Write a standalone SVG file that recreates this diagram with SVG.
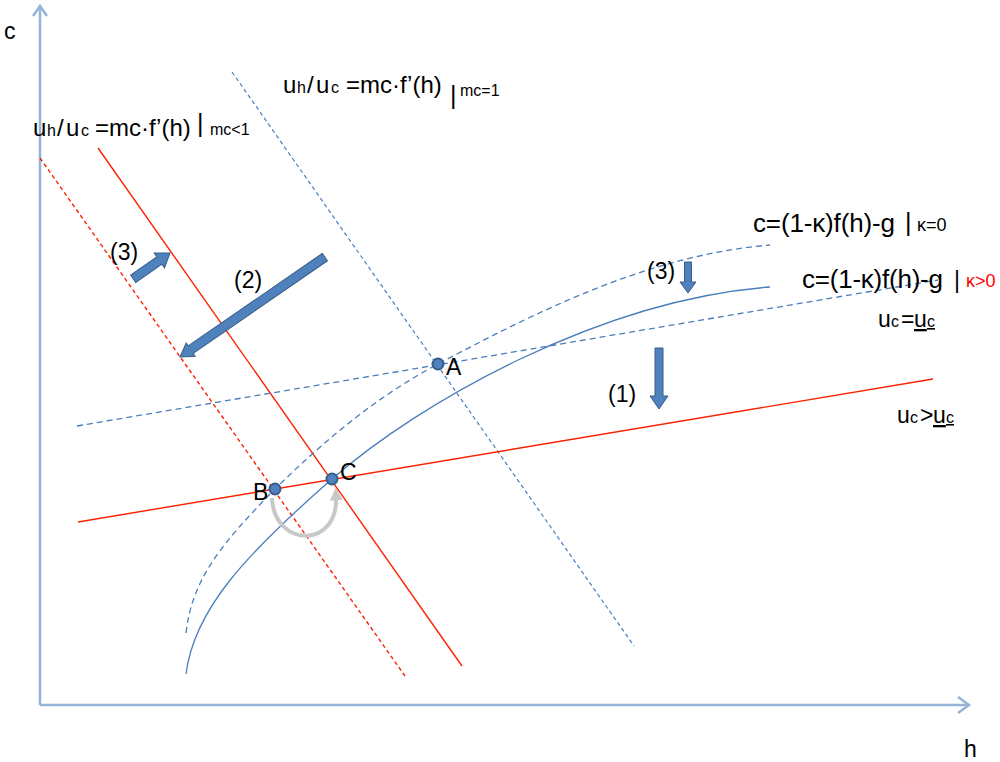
<svg xmlns="http://www.w3.org/2000/svg" width="1000" height="762" viewBox="0 0 1000 762">
<style>
text{font-family:"Liberation Sans",Arial,sans-serif;fill:#000}
.m{font-size:23px}
.m4{font-size:24px}
.s{font-size:16px}
.k{font-size:26px}
.ks{font-size:18px}
.axis{stroke:#95b3d7;stroke-width:2.5;fill:none}
.bl{stroke:#4a7ebb;stroke-width:1.3;fill:none}
.bd{stroke:#4a7ebb;stroke-width:1.3;fill:none;stroke-dasharray:6 4}
.bd2{stroke:#4a7ebb;stroke-width:1.2;fill:none;stroke-dasharray:4 3}
.rl{stroke:#ff2000;stroke-width:1.4;fill:none}
.rd{stroke:#ff2000;stroke-width:1.4;fill:none;stroke-dasharray:4 3}
.pt{fill:#4f81bd;stroke:#385d8a;stroke-width:2}
.blk{fill:#4f81bd;stroke:#385d8a;stroke-width:1}
.gr{stroke:#c8c8c8;stroke-width:4;fill:none}
</style>
<defs>
<marker id="ga" viewBox="0 0 10 10" refX="5" refY="5" markerWidth="3.2" markerHeight="3.2" orient="auto" markerUnits="strokeWidth">
<path d="M0,0 L10,5 L0,10 Z" fill="#c8c8c8"/>
</marker>
</defs>
<g id="axes">
<line class="axis" x1="40" y1="705" x2="40" y2="6"/>
<polyline class="axis" points="33,16 40,6 47,16"/>
<line class="axis" x1="40" y1="705" x2="969" y2="705"/>
<polyline class="axis" points="958,697 969,705 958,713"/>
<text id="lbl-c" class="m" x="4" y="39">c</text>
<text id="lbl-h" class="m" x="964" y="757">h</text>
</g>
<g id="connectors">
<line id="mc1" class="bd2" x1="232" y1="72" x2="634" y2="646"/>
<line id="mclt1" class="rl" x1="98" y1="148" x2="462" y2="666"/>
<line id="mclt1d" class="rd" x1="40" y1="158" x2="405" y2="676"/>
<line id="uc-eq" class="bd" x1="77" y1="426" x2="938" y2="280"/>
<line id="uc-gt" class="rl" x1="78" y1="522" x2="933" y2="379"/>
<path id="k0" class="bd" d="M186,633 C192,580 220,545 275,489 C330,435 380,395 438,364 C540,310 650,255 770,245"/>
<path id="kpos" class="bl" d="M186,674 C194,610 245,555 332,479 C420,402 600,300 770,287"/>
<path id="bc-arc" class="gr" d="M272,498 C274,548 340,550 336,494" marker-end="url(#ga)"/>
<path id="arr2" class="blk" transform="translate(180,357) rotate(145.4)" d="M0,0 L-13,-8 L-13,-4.5 L-176,-4.5 L-176,4.5 L-13,4.5 L-13,8 Z"/>
<path id="arr3a" class="blk" transform="translate(170,253) rotate(-35.1)" d="M0,0 L-13,-9 L-13,-4.5 L-45,-4.5 L-45,4.5 L-13,4.5 L-13,9 Z"/>
<path id="arr3b" class="blk" transform="translate(688,293) rotate(90)" d="M0,0 L-11,-8 L-11,-3.5 L-31,-3.5 L-31,3.5 L-11,3.5 L-11,8 Z"/>
<path id="arr1" class="blk" transform="translate(659,409) rotate(90)" d="M0,0 L-13,-9 L-13,-4 L-61,-4 L-61,4 L-13,4 L-13,9 Z"/>
</g>
<g id="point-A"><circle class="pt" cx="438" cy="364" r="5.5"/><text class="m" x="446" y="375">A</text></g>
<g id="point-B"><circle class="pt" cx="275" cy="489" r="5.5"/><text class="m" x="253" y="500">B</text></g>
<g id="point-C"><circle class="pt" cx="332" cy="479" r="5.5"/><text class="m" x="340" y="480">C</text></g>
<g id="label-mc1">
<text class="m4" y="93"><tspan x="283">u</tspan><tspan class="s" x="297">h</tspan><tspan x="307">/</tspan><tspan x="316">u</tspan><tspan class="s" x="331">c</tspan><tspan x="346">=mc·f’(h)</tspan></text>
<text style="font-size:25px" x="450" y="103.5">|</text>
<text class="s" x="460" y="96">mc=1</text>
</g>
<g id="label-mclt1">
<text class="m4" y="136"><tspan x="33">u</tspan><tspan class="s" x="47">h</tspan><tspan x="57">/</tspan><tspan x="66">u</tspan><tspan class="s" x="81">c</tspan><tspan x="95">=mc·f’(h)</tspan></text>
<text style="font-size:25px" x="197" y="131.5">|</text>
<text class="s" x="210" y="135">mc&lt;1</text>
</g>
<g id="label-k0">
<text class="k" x="753" y="232" textLength="142">c=(1-κ)f(h)-g</text>
<text style="font-size:25px" x="905" y="230.5">|</text>
<text class="ks" x="917" y="231">κ=0</text>
</g>
<g id="label-kpos">
<text class="k" x="802" y="288" textLength="141">c=(1-κ)f(h)-g</text>
<text style="font-size:23px" x="954" y="287.5">|</text>
<text class="ks" x="966" y="287" style="fill:#ff0000">κ&gt;0</text>
</g>
<g id="label-uc-eq">
<text class="m" y="327"><tspan x="878">u</tspan><tspan class="s" x="891">c</tspan><tspan x="901">=</tspan><tspan text-decoration="underline"><tspan x="914">u</tspan><tspan class="s" x="927">c</tspan></tspan></text>
</g>
<g id="label-uc-gt">
<text class="m" y="423"><tspan x="897">u</tspan><tspan class="s" x="910">c</tspan><tspan x="920">&gt;</tspan><tspan text-decoration="underline"><tspan x="933">u</tspan><tspan class="s" x="946">c</tspan></tspan></text>
</g>
<g id="step-labels">
<text class="m" x="608" y="402">(1)</text>
<text class="m" x="234" y="288">(2)</text>
<text class="m" x="110" y="260">(3)</text>
<text class="m" x="647" y="279">(3)</text>
</g>
</svg>
